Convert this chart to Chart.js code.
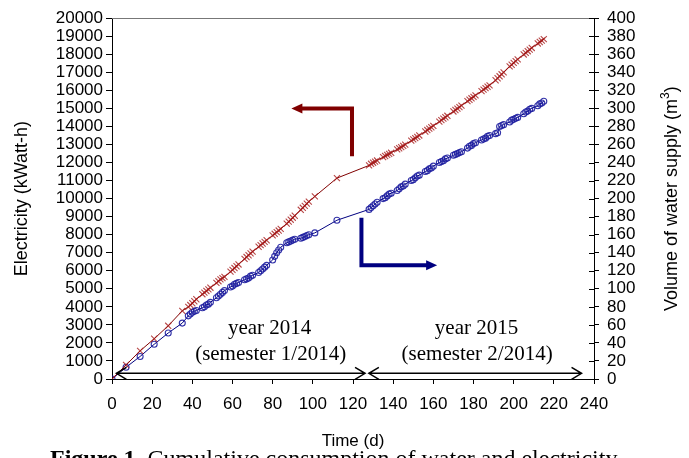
<!DOCTYPE html>
<html>
<head>
<meta charset="utf-8">
<script src="https://cdn.jsdelivr.net/npm/chart.js@4/dist/chart.umd.min.js"></script>
<style>
  html, body { margin: 0; padding: 0; background: #fff; }
  #wrap { width: 689px; height: 458px; }
</style>
</head>
<body>
<div id="wrap"><canvas id="chart" width="689" height="458"></canvas></div>
<script>
/* data */
const dayNumbers = [
  0, 7, 14, 21, 28, 35,
  38, 39, 40, 41, 42, 45, 46, 47, 48, 49, 52, 53, 54, 55, 56,
  59, 60, 61, 62, 63, 66, 67, 68, 69, 70, 73, 74, 75, 76, 77,
  80, 81, 82, 83, 84, 87, 88, 89, 90, 91, 94, 95, 96, 97, 98, 101,
  112,
  128, 129, 130, 131, 132, 135, 136, 137, 138, 139, 142, 143, 144, 145, 146,
  149, 150, 151, 152, 153, 156, 157, 158, 159, 160, 163, 164, 165, 166, 167,
  170, 171, 172, 173, 174, 177, 178, 179, 180, 181, 184, 185, 186, 187, 188,
  191, 192, 193, 194, 195, 198, 199, 200, 201, 202, 205, 206, 207, 208, 209,
  212, 213, 214, 215
];

const electricityKwh = [
  0, 780, 1560, 2230, 2950, 3780,
  4000, 4100, 4200, 4310, 4420, 4700, 4790, 4880, 4970, 5060, 5330, 5420, 5520, 5590, 5660,
  5950, 6050, 6150, 6250, 6350, 6660, 6760, 6860, 6960, 7060, 7330, 7420, 7510, 7600, 7690,
  7960, 8050, 8140, 8230, 8320, 8610, 8720, 8830, 8940, 9050, 9380, 9490, 9600, 9720, 9830, 10120,
  11135,
  11840, 11930, 11990, 12050, 12110, 12300, 12360, 12420, 12480, 12540, 12730, 12790, 12850, 12920, 12990,
  13210, 13280, 13350, 13420, 13500, 13720, 13800, 13880, 13955, 14030, 14270, 14350, 14430, 14510, 14590,
  14830, 14910, 14990, 15070, 15155, 15400, 15480, 15560, 15640, 15720, 15960, 16040, 16120, 16200, 16280,
  16560, 16670, 16780, 16890, 17000, 17330, 17420, 17520, 17620, 17720, 17990, 18080, 18170, 18260, 18350,
  18600, 18680, 18760, 18840
];

const waterM3 = [
  0, 13, 25, 38.5, 51, 62,
  70, 72, 74, 75, 76, 79, 80, 82, 83, 85, 90, 92, 94, 96, 98,
  102, 103, 105, 106, 107, 110, 111, 112, 114, 115, 118, 120, 122, 124, 126,
  132, 136, 140, 143, 146, 151, 152, 153, 154, 155, 156, 157, 158, 159, 160, 162,
  176,
  188, 190, 192, 194, 196, 200, 201, 203, 205, 206, 209, 211, 213, 214, 216,
  220, 221, 223, 225, 226, 230, 231, 233, 234, 236, 240, 241, 242, 244, 245,
  248, 249, 250, 251, 252, 256, 258, 259, 261, 262, 265, 266, 267, 269, 270,
  272, 273, 280, 281, 282, 285, 287, 288, 289, 290, 294, 296, 297, 299, 300,
  303, 305, 306, 308
];

/* annotations, in axis units */
const periodLabels = [
  { x: 78.5, y: 2820, text: 'year 2014' },
  { x: 79, y: 1383, text: '(semester 1/2014)' },
  { x: 181.5, y: 2820, text: 'year 2015' },
  { x: 181.8, y: 1383, text: '(semester 2/2014)' }
];
const periodSpans = [[2.2, 126], [127.9, 233.8]];
const spanLevel = 315;

const SANS = '"Liberation Sans", Arial, sans-serif';
const SERIF = '"Liberation Serif", "Times New Roman", serif';
const RED = '#800000';
const BLUE = '#000080';

function solidArrow(ctx, x0, y0, xc, yc, tipX, color) {
  const dir = tipX > xc ? 1 : -1;
  ctx.strokeStyle = color;
  ctx.fillStyle = color;
  ctx.lineWidth = 4;
  ctx.lineCap = 'butt';
  ctx.beginPath();
  ctx.moveTo(x0, y0);
  ctx.lineTo(xc, yc);
  ctx.lineTo(tipX - dir * 8, yc);
  ctx.stroke();
  ctx.beginPath();
  ctx.moveTo(tipX, yc);
  ctx.lineTo(tipX - dir * 11, yc - 5);
  ctx.lineTo(tipX - dir * 11, yc + 5);
  ctx.closePath();
  ctx.fill();
}

function openArrow(ctx, xa, xb, y) {
  ctx.strokeStyle = '#000';
  ctx.lineWidth = 1.5;
  ctx.beginPath();
  ctx.moveTo(xa, y); ctx.lineTo(xb, y);
  ctx.moveTo(xa + 10, y - 6); ctx.lineTo(xa, y); ctx.lineTo(xa + 10, y + 6);
  ctx.moveTo(xb - 10, y - 6); ctx.lineTo(xb, y); ctx.lineTo(xb - 10, y + 6);
  ctx.stroke();
}

const overlay = {
  id: 'overlay',
  afterDraw(chart) {
    const { ctx, chartArea: area } = chart;
    const { x, y, y1 } = chart.scales;
    ctx.save();

    // top frame line
    ctx.strokeStyle = '#777';
    ctx.lineWidth = 1;
    ctx.beginPath();
    ctx.moveTo(area.left, Math.round(area.top) + 0.5);
    ctx.lineTo(area.right, Math.round(area.top) + 0.5);
    ctx.stroke();

    // right axis ticks also cross inward
    ctx.strokeStyle = '#000';
    y1.ticks.forEach(t => {
      const py = Math.round(y1.getPixelForValue(t.value)) + 0.5;
      ctx.beginPath();
      ctx.moveTo(area.right - 5, py);
      ctx.lineTo(area.right, py);
      ctx.stroke();
    });

    // elbow arrows pointing at each axis
    solidArrow(ctx, x.getPixelForValue(119.5), y.getPixelForValue(12350),
      x.getPixelForValue(119.5), y.getPixelForValue(14990), x.getPixelForValue(89.3), RED);
    solidArrow(ctx, x.getPixelForValue(124.2), y1.getPixelForValue(178.8),
      x.getPixelForValue(124.2), y1.getPixelForValue(126), x.getPixelForValue(161.9), BLUE);

    // period spans
    periodSpans.forEach(s => openArrow(ctx, x.getPixelForValue(s[0]), x.getPixelForValue(s[1]), y.getPixelForValue(spanLevel)));

    ctx.fillStyle = '#000';
    ctx.font = '21px ' + SERIF;
    ctx.textAlign = 'center';
    ctx.textBaseline = 'middle';
    periodLabels.forEach(l => ctx.fillText(l.text, x.getPixelForValue(l.x), y.getPixelForValue(l.y)));

    // right axis title with superscript
    ctx.save();
    ctx.translate(672, (area.top + area.bottom) / 2);
    ctx.rotate(-Math.PI / 2);
    ctx.textAlign = 'left';
    ctx.textBaseline = 'middle';
    const main = 'Volume of water supply (m';
    ctx.font = '18px ' + SANS;
    const w1 = ctx.measureText(main).width;
    const w3 = ctx.measureText(')').width;
    ctx.font = '12px ' + SANS;
    const w2 = ctx.measureText('3').width;
    let cx = -(w1 + w2 + w3) / 2;
    ctx.font = '18px ' + SANS;
    ctx.fillText(main, cx, 0);
    ctx.font = '12px ' + SANS;
    ctx.fillText('3', cx + w1, -6);
    ctx.font = '18px ' + SANS;
    ctx.fillText(')', cx + w1 + w2, 0);
    ctx.restore();

    // caption, cut by the bottom edge
    ctx.textAlign = 'left';
    ctx.textBaseline = 'alphabetic';
    ctx.font = 'bold 24px ' + SERIF;
    const lead = 'Figure 1.';
    ctx.fillText(lead, 50, 466);
    const lw = ctx.measureText(lead).width;
    ctx.font = '24px ' + SERIF;
    ctx.fillText(' Cumulative consumption of water and electricity', 50 + lw, 466);

    ctx.restore();
  }
};

const tickFont = { family: SANS, size: 17 };
const plainNumber = v => String(v);

new Chart(document.getElementById('chart').getContext('2d'), {
  type: 'line',
  data: {
    datasets: [{
      label: 'Electricity',
      data: dayNumbers.map((d, i) => ({ x: d, y: electricityKwh[i] })),
      yAxisID: 'y',
      borderColor: RED,
      backgroundColor: RED,
      borderWidth: 1,
      pointStyle: 'crossRot',
      pointRadius: 4.3,
      pointBorderWidth: 1.1,
      pointBorderColor: 'rgba(165,25,25,0.8)',
      tension: 0,
      fill: false
    }, {
      label: 'Water',
      data: dayNumbers.map((d, i) => ({ x: d, y: waterM3[i] })),
      yAxisID: 'y1',
      borderColor: BLUE,
      backgroundColor: 'rgba(0,0,0,0)',
      borderWidth: 1,
      pointStyle: 'circle',
      pointRadius: 3,
      pointBorderWidth: 1.1,
      pointBorderColor: 'rgba(30,30,160,0.9)',
      tension: 0,
      fill: false
    }]
  },
  options: {
    responsive: false,
    animation: false,
    layout: { padding: { top: 17, left: 0, right: 0, bottom: 0 } },
    plugins: { legend: { display: false }, tooltip: { enabled: false } },
    scales: {
      x: {
        type: 'linear',
        min: 0, max: 240,
        ticks: { stepSize: 20, autoSkip: false, color: '#000', font: tickFont, padding: 10, maxRotation: 0, callback: plainNumber },
        grid: { drawOnChartArea: false, tickLength: 5, color: '#000' },
        border: { color: '#000', width: 1 },
        title: { display: true, text: 'Time (d)', color: '#000', font: { family: SANS, size: 17 }, padding: { top: 0, bottom: 6 } },
        afterFit: s => { s.height = 79; }
      },
      y: {
        position: 'left',
        min: 0, max: 20000,
        ticks: { stepSize: 1000, autoSkip: false, color: '#000', font: tickFont, padding: 3, callback: plainNumber },
        grid: { drawOnChartArea: false, tickLength: 6, color: '#000' },
        border: { color: '#000', width: 1 },
        title: { display: true, text: 'Electricity (kWatt-h)', color: '#000', font: { family: SANS, size: 18 }, padding: { top: 11, bottom: 0 } },
        afterFit: s => { s.width = 112; }
      },
      y1: {
        position: 'right',
        min: 0, max: 400,
        ticks: { stepSize: 20, autoSkip: false, color: '#000', font: tickFont, padding: 8, callback: plainNumber },
        grid: { drawOnChartArea: false, tickLength: 5, color: '#000' },
        border: { color: '#000', width: 1 },
        afterFit: s => { s.width = 95; }
      }
    }
  },
  plugins: [overlay]
});
</script>
</body>
</html>
